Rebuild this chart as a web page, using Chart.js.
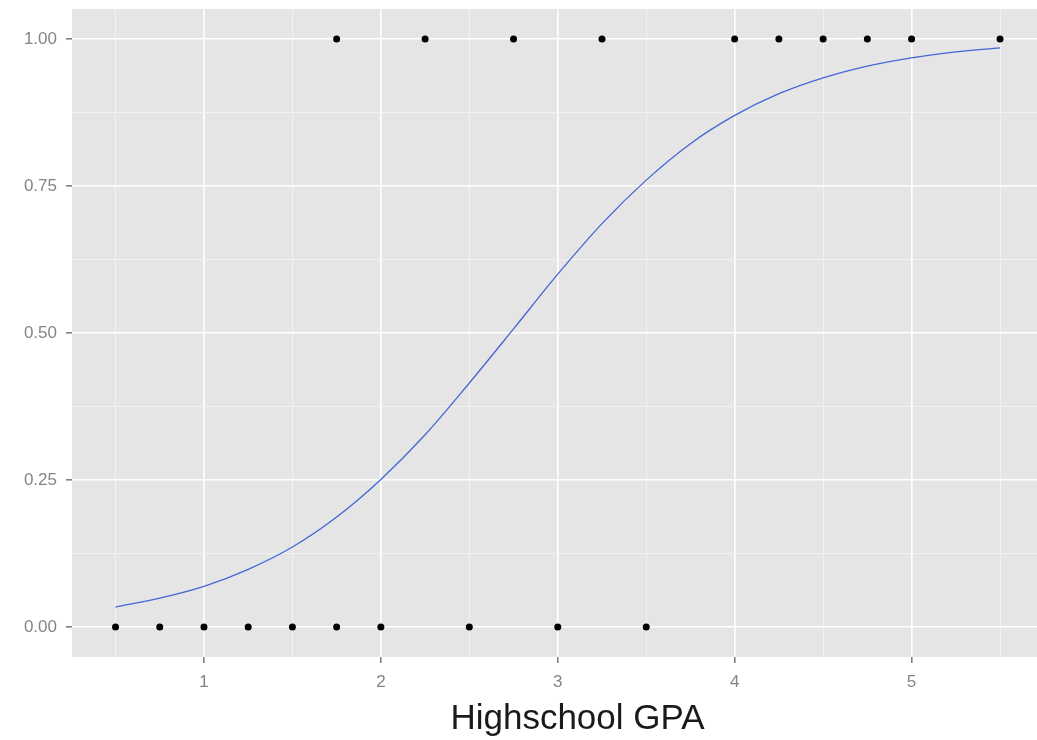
<!DOCTYPE html>
<html>
<head>
<meta charset="utf-8">
<script src="https://cdn.jsdelivr.net/npm/chart.js@4"></script>
<style>
  html, body { margin: 0; padding: 0; background: #fff; }
  #chart { display: block; }
</style>
</head>
<body>
<canvas id="chart" width="1037" height="740"></canvas>
<script>
// GPA of students who did not get in (0) and who did (1)
const gpaZero = [0.5, 0.75, 1, 1.25, 1.5, 1.75, 2, 2.5, 3, 3.5];
const gpaOne = [1.75, 2.25, 2.75, 3.25, 4, 4.25, 4.5, 4.75, 5, 5.5];

// fitted curve
const curveX = [0.5, 0.75, 1, 1.25, 1.5, 1.75, 2, 2.25, 2.5, 2.75, 3, 3.25, 3.5, 3.75, 4, 4.25, 4.5, 4.75, 5, 5.25, 5.5];
const curveY = [0.034, 0.049, 0.069, 0.098, 0.136, 0.187, 0.251, 0.327, 0.415, 0.507, 0.600, 0.686, 0.760, 0.822, 0.870, 0.907, 0.934, 0.954, 0.968, 0.978, 0.985];

const xTicks = [0.5, 1, 1.5, 2, 2.5, 3, 3.5, 4, 4.5, 5, 5.5];
const yTicks = [0, 0.125, 0.25, 0.375, 0.5, 0.625, 0.75, 0.875, 1];

const xTitle = 'Highschool GPA';

const isMajorX = v => Number.isInteger(v);
const isMajorY = v => Math.abs(v * 4 - Math.round(v * 4)) < 1e-9;

const panelBg = {
    id: 'panelBg',
    beforeDraw(chart) {
        const { ctx, chartArea: a } = chart;
        ctx.save();
        ctx.fillStyle = '#E5E5E5';
        ctx.fillRect(a.left, a.top, a.right - a.left, a.bottom - a.top);
        ctx.restore();
    }
};

// axis title sits a bit right of the panel centre in the original
const axisTitle = {
    id: 'axisTitle',
    afterDraw(chart) {
        const { ctx, chartArea: a } = chart;
        ctx.save();
        ctx.font = '35px "Liberation Sans", Arial, sans-serif';
        ctx.fillStyle = '#1a1a1a';
        ctx.textAlign = 'center';
        ctx.textBaseline = 'alphabetic';
        ctx.fillText(xTitle, (a.left + a.right) / 2 + 23, 729);
        ctx.restore();
    }
};

const data = {
    datasets: [
        {
            label: 'points0',
            data: gpaZero.map(x => ({ x: x, y: 0 })),
            backgroundColor: '#000',
            borderWidth: 0,
            pointRadius: 3.5
        },
        {
            label: 'points1',
            data: gpaOne.map(x => ({ x: x, y: 1 })),
            backgroundColor: '#000',
            borderWidth: 0,
            pointRadius: 3.5
        },
        {
            label: 'fit',
            data: curveX.map((x, i) => ({ x: x, y: curveY[i] })),
            showLine: true,
            borderColor: '#4466d6',
            borderWidth: 1.3,
            pointRadius: 0,
            cubicInterpolationMode: 'monotone'
        }
    ]
};

const tickFont = { family: 'Liberation Sans, Arial, sans-serif', size: 17 };

new Chart(document.getElementById('chart'), {
    type: 'scatter',
    data: data,
    plugins: [panelBg, axisTitle],
    options: {
        responsive: false,
        animation: false,
        layout: { autoPadding: false, padding: { top: 9, right: 0, left: 0, bottom: 0 } },
        plugins: {
            legend: { display: false },
            tooltip: { enabled: false }
        },
        scales: {
            x: {
                type: 'linear',
                min: 0.254,
                max: 5.709,
                afterBuildTicks: scale => { scale.ticks = xTicks.map(v => ({ value: v })); },
                afterFit: scale => {
                    scale.height = 83;
                    scale.paddingLeft = 0;
                    scale.paddingRight = 0;
                },
                border: { display: false },
                grid: {
                    color: c => isMajorX(c.tick.value) ? '#FFFFFF' : '#F2F2F2',
                    lineWidth: c => isMajorX(c.tick.value) ? 1.6 : 1,
                    tickColor: c => isMajorX(c.tick.value) ? '#7F7F7F' : 'rgba(0,0,0,0)',
                    tickLength: 6,
                    drawTicks: true
                },
                ticks: {
                    autoSkip: false,
                    maxRotation: 0,
                    padding: 9,
                    color: '#858585',
                    font: tickFont,
                    callback: v => isMajorX(v) ? String(v) : ''
                }
            },
            y: {
                type: 'linear',
                min: -0.051,
                max: 1.051,
                afterBuildTicks: scale => { scale.ticks = yTicks.map(v => ({ value: v })); },
                afterFit: scale => {
                    scale.width = 72;
                    scale.paddingTop = 0;
                    scale.paddingBottom = 0;
                },
                border: { display: false },
                grid: {
                    color: c => isMajorY(c.tick.value) ? '#FFFFFF' : '#F2F2F2',
                    lineWidth: c => isMajorY(c.tick.value) ? 1.6 : 1,
                    tickColor: c => isMajorY(c.tick.value) ? '#7F7F7F' : 'rgba(0,0,0,0)',
                    tickLength: 6,
                    drawTicks: true
                },
                ticks: {
                    autoSkip: false,
                    padding: 9,
                    color: '#858585',
                    font: tickFont,
                    callback: v => isMajorY(v) ? v.toFixed(2) : ''
                }
            }
        }
    }
});
</script>
</body>
</html>
